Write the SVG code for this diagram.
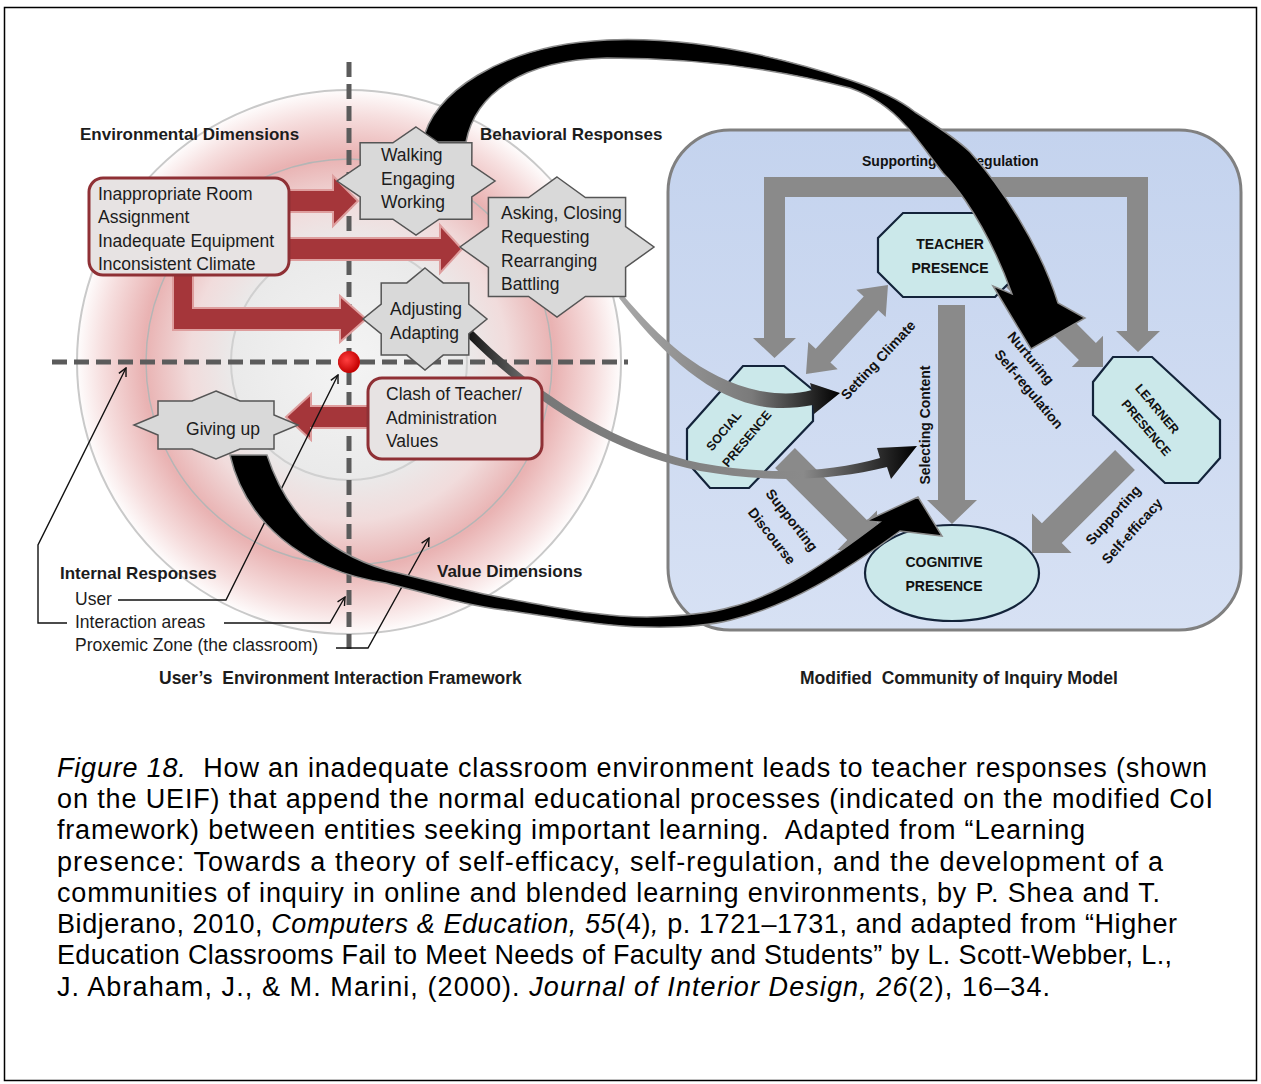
<svg xmlns="http://www.w3.org/2000/svg" width="1261" height="1084" viewBox="0 0 1261 1084">
<defs>
<style>
text{font-family:"Liberation Sans",Arial,sans-serif;fill:#1c1c1c;white-space:pre}
.lbl{font-size:17.5px}
.hd{font-size:17px;font-weight:bold}
.ttl{font-size:17.5px;font-weight:bold}
.leg{font-size:17.5px}
.coi{font-size:14px;font-weight:bold;fill:#111}
.oc{font-size:12.5px;font-weight:bold;fill:#111}
.cap{font-size:27px;fill:#000}
.dash{stroke:#5b5b5b;stroke-width:5;stroke-dasharray:15 7;fill:none}
.red{fill:#a5363a;stroke:#de9e9e;stroke-width:2}
.box{fill:#e7e3e3;stroke:#8f3035;stroke-width:3}
.star{fill:#d9d9d9;stroke:#555;stroke-width:1.5}
.lead{fill:none;stroke:#111;stroke-width:1.4}
.garr{fill:#8a8a8a}
.oct{fill:#cbe8ea;stroke:#13233a;stroke-width:2.2}
.blk{fill:#000;stroke:#8a8a8a;stroke-width:1.5}
</style>
<radialGradient id="zone" cx="349" cy="362" r="274" gradientUnits="userSpaceOnUse">
<stop offset="0" stop-color="#f4f4f4"/>
<stop offset="0.42" stop-color="#eaeaea"/>
<stop offset="0.58" stop-color="#f1dcdc"/>
<stop offset="0.75" stop-color="#e9b2b2"/>
<stop offset="0.9" stop-color="#f6dede"/>
<stop offset="1" stop-color="#ffffff"/>
</radialGradient>
<radialGradient id="dot" cx="0.4" cy="0.4" r="0.6">
<stop offset="0" stop-color="#ff4040"/>
<stop offset="1" stop-color="#c40000"/>
</radialGradient>
<linearGradient id="blue" x1="0" y1="0" x2="0" y2="1">
<stop offset="0" stop-color="#c4d3ee"/>
<stop offset="1" stop-color="#d7e1f4"/>
</linearGradient>
<linearGradient id="fadeA" x1="620" y1="0" x2="840" y2="0" gradientUnits="userSpaceOnUse">
<stop offset="0" stop-color="#a8a8a8"/>
<stop offset="0.6" stop-color="#7a7a7a"/>
<stop offset="1" stop-color="#000"/>
</linearGradient>
<linearGradient id="fadeB" x1="466" y1="0" x2="916" y2="0" gradientUnits="userSpaceOnUse">
<stop offset="0" stop-color="#111"/>
<stop offset="0.15" stop-color="#777"/>
<stop offset="0.75" stop-color="#8a8a8a"/>
<stop offset="1" stop-color="#000"/>
</linearGradient>
<marker id="open" viewBox="0 0 10 10" refX="9" refY="5" markerWidth="10" markerHeight="10" markerUnits="userSpaceOnUse" orient="auto">
<path d="M1,1 L9,5 L1,9" fill="none" stroke="#111" stroke-width="1.4"/>
</marker>
</defs>

<rect x="0" y="0" width="1261" height="1084" fill="#fff"/>
<rect x="4.5" y="7.5" width="1252" height="1073" fill="none" stroke="#000" stroke-width="1.5"/>

<!-- proxemic zone background with rings and axes -->
<g id="zone-bg">
<circle cx="349" cy="362" r="274" fill="url(#zone)"/>
<circle cx="349" cy="362" r="272" fill="none" stroke="#c9c9c9" stroke-width="2"/>
<circle cx="349" cy="362" r="203" fill="none" stroke="#b5b5b5" stroke-width="1.5"/>
<circle cx="349" cy="362" r="118" fill="none" stroke="#d0d0d0" stroke-width="2"/>
<path class="dash" d="M52,362 H628"/>
<path class="dash" d="M349,62 V656"/>
</g>

<!-- community of inquiry container -->
<g id="coi-frame">
<rect x="668" y="130" width="573" height="500" rx="62" fill="url(#blue)" stroke="#808080" stroke-width="3"/>
</g>

<!-- community of inquiry process arrows -->
<g id="coi-arrows">
<polygon class="garr" points="764,338 764,177 1148,177 1148,331 1160,331 1138,352 1116,331 1127,331 1127,197 785,197 785,338 796,338 774.5,358 753,338"/>
<polygon class="garr" points="806,374 837.7,369.2 830.4,362.4 878.4,310.2 885.7,317 888,285 856.3,289.8 863.7,296.6 815.7,348.8 808.3,342"/>
<polygon class="garr" points="938,305 965,305 965,500 977,500 952,524 927,500 938,500"/>
<polygon class="garr" points="1013.5,260.5 1095.9,342.9 1103,335.8 1103,367 1071.8,367 1078.9,359.9 996.5,277.5"/>
<polygon class="garr" points="794.9,448.1 867.1,520.3 877,510.4 877,550 837.4,550 847.3,540.1 775.1,467.9"/>
<polygon class="garr" points="1134.9,469.9 1061.7,543.1 1071.6,553 1032,553 1032,513.4 1041.9,523.3 1115.1,450.1"/>
</g>

<g id="teacher-presence">
<polygon class="oct" points="903,213 995,213 1020,238 1020,272 995,297 903,297 878,272 878,238"/>
<text class="coi" font-size="13.5" x="950" y="249" text-anchor="middle">TEACHER</text>
<text class="coi" font-size="13.5" x="950" y="273" text-anchor="middle">PRESENCE</text>
</g>
<g id="social-presence">
<polygon class="oct" points="743,366 784,366 813,390 813,421 749,488 710,488 687,462 687,429"/>
<text class="oc" transform="translate(724,431) rotate(-50)" text-anchor="middle" dy="4">SOCIAL</text>
<text class="oc" transform="translate(747,439) rotate(-50)" text-anchor="middle" dy="4">PRESENCE</text>
</g>
<g id="learner-presence">
<polygon class="oct" points="1113,357 1152,357 1220,420 1220,458 1198,483 1165,483 1093,415 1093,382"/>
<text class="oc" transform="translate(1157,409) rotate(50)" text-anchor="middle" dy="4">LEARNER</text>
<text class="oc" transform="translate(1146,428) rotate(50)" text-anchor="middle" dy="4">PRESENCE</text>
</g>
<g id="cognitive-presence">
<ellipse class="oct" cx="952" cy="573" rx="87" ry="48"/>
<text class="coi" font-size="13.5" x="944" y="567" text-anchor="middle">COGNITIVE</text>
<text class="coi" font-size="13.5" x="944" y="591" text-anchor="middle">PRESENCE</text>
</g>

<!-- process labels -->
<g id="coi-labels">
<text class="coi" x="862" y="166">Supporting Self-regulation</text>
<text class="coi" transform="translate(878,360) rotate(-47)" text-anchor="middle" dy="5">Setting Climate</text>
<text class="coi" transform="translate(925,425) rotate(-90)" text-anchor="middle" dy="5">Selecting Content</text>
<text class="coi" transform="translate(1031,358) rotate(50)" text-anchor="middle" dy="5">Nurturing</text>
<text class="coi" transform="translate(1029,389) rotate(50)" text-anchor="middle" dy="5">Self-regulation</text>
<text class="coi" transform="translate(792,520) rotate(52)" text-anchor="middle" dy="5">Supporting</text>
<text class="coi" transform="translate(772,536) rotate(52)" text-anchor="middle" dy="5">Discourse</text>
<text class="coi" transform="translate(1113,515) rotate(-48)" text-anchor="middle" dy="5">Supporting</text>
<text class="coi" transform="translate(1132,531) rotate(-48)" text-anchor="middle" dy="5">Self-efficacy</text>
</g>

<!-- connectors -->
<g id="connectors">
<!-- environmental problems to responses -->
<polygon class="red" points="286,190 333,190 333,176 358,201 333,226 333,212 286,212"/>
<polygon class="red" points="286,238 440,238 440,225 462,249 440,273 440,260 286,260"/>
<polygon class="red" points="173,274 193,274 193,308 340,308 340,296 366,319 340,342 340,330 173,330"/>
<polygon class="red" points="368,406 311,406 311,394 286,417 311,440 311,428 368,428"/>
<!-- leader lines of the legend -->
<polyline class="lead" points="118,600 226,600 338,375" marker-end="url(#open)"/>
<polyline class="lead" points="67,623 38,623 38,545 126,368" marker-end="url(#open)"/>
<polyline class="lead" points="224,623 330,623 345,597" marker-end="url(#open)"/>
<polyline class="lead" points="336,648 368,648 429,538" marker-end="url(#open)"/>
<!-- responses feeding the inquiry processes -->
<path class="blk" d="M423,142 C430,95 500,45 607,40 C680,37 760,50 850,80 C880,90 900,100 915,112 C940,128 958,140 970,152 C1000,185 1040,245 1058,303 L1085,318 L1031,349 L993,286 L1012,294 C998,255 980,222 965,200 C958,190 952,182 943,173 C925,150 915,135 905,125 C890,108 870,95 850,88 C770,67 690,58 607,58 C520,60 475,95 466,142 Z"/>
<path class="blk" d="M230,455 C245,520 300,570 386,583 C440,597 470,606 504,610 C560,618 600,626 647,627 C690,628 715,624 731,620 C790,605 840,575 900,531 L942,536 L918,497 L866,521 L880,522 C830,560 780,595 731,607 C715,612 690,616 647,617 C600,617 560,608 504,598 C470,592 440,583 386,570 C320,550 285,510 267,455 Z"/>
<path fill="url(#fadeA)" d="M622,294 C660,338 700,378 760,391 C782,395 798,394 812,390 L810,383 L840,393 L814,414 L813,405 C792,409 772,409 755,405 C700,392 655,345 619,298 Z"/>
<path fill="url(#fadeB)" d="M472,330 C540,398 620,446 700,463 C770,476 830,472 880,458 L877,448 L917,446 L891,479 L887,467 C830,481 770,483 700,471 C615,454 535,405 466,336 Z"/>
</g>

<!-- environmental dimensions -->
<g id="env-box">
<rect class="box" x="89" y="178" width="200" height="97" rx="14"/>
<text class="lbl" x="98" y="200">Inappropriate Room</text>
<text class="lbl" x="98" y="223">Assignment</text>
<text class="lbl" x="98" y="247">Inadequate Equipment</text>
<text class="lbl" x="98" y="270">Inconsistent Climate</text>
</g>
<g id="clash-box">
<rect class="box" x="368" y="378" width="174" height="81" rx="14"/>
<text class="lbl" x="386" y="400">Clash of Teacher/</text>
<text class="lbl" x="386" y="424">Administration</text>
<text class="lbl" x="386" y="447">Values</text>
</g>

<!-- behavioural responses -->
<g id="star-walking">
<polygon class="star" points="416,127 439.1,142.8 471.9,142.8 471.8,165.2 495,181 471.8,196.8 471.9,219.2 439.1,219.2 416,235 392.9,219.2 360.1,219.2 360.2,196.8 337,181 360.2,165.2 360.1,142.8 392.9,142.8"/>
<text class="lbl" x="381" y="161">Walking</text>
<text class="lbl" x="381" y="185">Engaging</text>
<text class="lbl" x="381" y="208">Working</text>
</g>
<g id="star-asking">
<polygon class="star" points="557,177 585.4,197.5 625.6,197.5 625.6,226.5 654,247 625.6,267.5 625.6,296.5 585.4,296.5 557,317 528.6,296.5 488.4,296.5 488.4,267.5 460,247 488.4,226.5 488.4,197.5 528.6,197.5"/>
<text class="lbl" x="501" y="219">Asking, Closing</text>
<text class="lbl" x="501" y="243">Requesting</text>
<text class="lbl" x="501" y="267">Rearranging</text>
<text class="lbl" x="501" y="290">Battling</text>
</g>
<g id="star-adjusting">
<polygon class="star" points="425,268 443.2,282.9 468.8,282.9 468.8,304.1 487,319 468.8,333.9 468.8,355.1 443.2,355.1 425,370 406.8,355.1 381.2,355.1 381.2,333.9 363,319 381.2,304.1 381.2,282.9 406.8,282.9"/>
<text class="lbl" x="390" y="315">Adjusting</text>
<text class="lbl" x="390" y="339">Adapting</text>
</g>
<g id="star-giving-up">
<polygon class="star" points="216,391 240,401 274,401 274,415 298,425 274,435 274,449 240,449 216,459 192,449 158,449 158,435 134,425 158,415 158,401 192,401"/>
<text class="lbl" x="223" y="435" text-anchor="middle">Giving up</text>
</g>

<g id="user">
<circle cx="349" cy="362" r="11" fill="url(#dot)"/>
</g>

<!-- framework labels -->
<g id="uef-labels">
<text class="hd" x="80" y="140">Environmental Dimensions</text>
<text class="hd" x="480" y="140">Behavioral Responses</text>
<text class="hd" x="60" y="579">Internal Responses</text>
<text class="hd" x="437" y="577">Value Dimensions</text>
<text class="leg" x="75" y="605">User</text>
<text class="leg" x="75" y="628">Interaction areas</text>
<text class="leg" x="75" y="651">Proxemic Zone (the classroom)</text>
<text class="ttl" x="159" y="684">User’s  Environment Interaction Framework</text>
<text class="ttl" x="800" y="684">Modified  Community of Inquiry Model</text>
</g>

<!-- caption -->
<g id="caption">
<text class="cap" x="57" y="777" textLength="1150" lengthAdjust="spacing"><tspan font-style="italic">Figure 18.</tspan>  How an inadequate classroom environment leads to teacher responses (shown</text>
<text class="cap" x="57" y="808" textLength="1156" lengthAdjust="spacing">on the UEIF) that append the normal educational processes (indicated on the modified CoI</text>
<text class="cap" x="57" y="839" textLength="1028" lengthAdjust="spacing">framework) between entities seeking important learning.  Adapted from “Learning</text>
<text class="cap" x="57" y="871" textLength="1106" lengthAdjust="spacing">presence: Towards a theory of self-efficacy, self-regulation, and the development of a</text>
<text class="cap" x="57" y="902" textLength="1103" lengthAdjust="spacing">communities of inquiry in online and blended learning environments, by P. Shea and T.</text>
<text class="cap" x="57" y="933" textLength="1120" lengthAdjust="spacing">Bidjerano, 2010, <tspan font-style="italic">Computers &amp; Education, 55</tspan>(4)<tspan font-style="italic">,</tspan> p. 1721–1731, and adapted from “Higher</text>
<text class="cap" x="57" y="964" textLength="1115" lengthAdjust="spacing">Education Classrooms Fail to Meet Needs of Faculty and Students” by L. Scott-Webber, L.,</text>
<text class="cap" x="57" y="996" textLength="993" lengthAdjust="spacing">J. Abraham, J., &amp; M. Marini, (2000). <tspan font-style="italic">Journal of Interior Design, 26</tspan>(2), 16–34.</text>
</g>
</svg>
